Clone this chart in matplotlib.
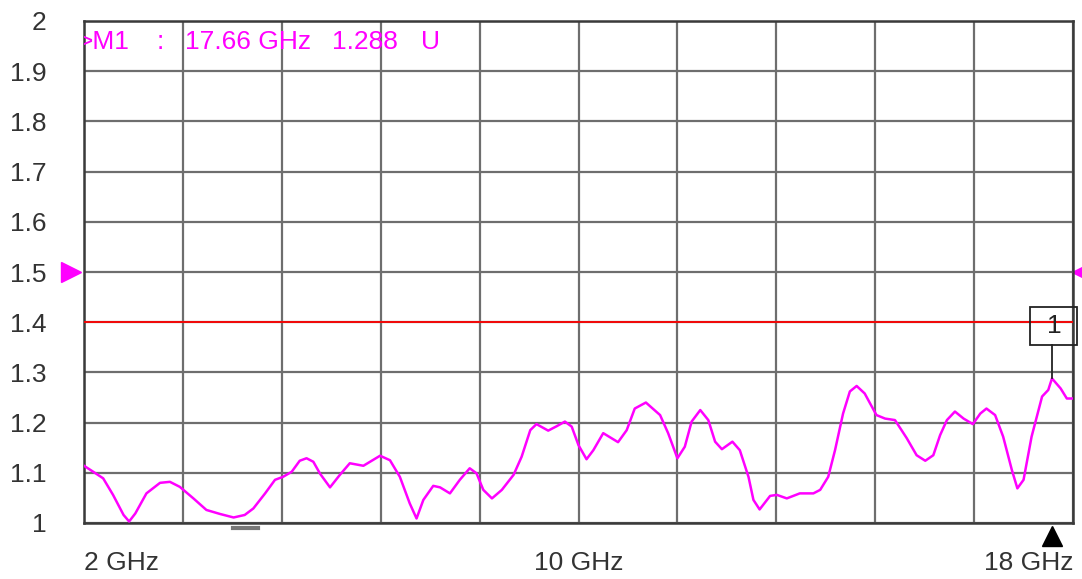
#!/usr/bin/env python3
"""VSWR trace, 2-18 GHz, with M1 marker and 1.4 limit line."""
import matplotlib
matplotlib.use("Agg")
import matplotlib.pyplot as plt
from matplotlib.patches import Rectangle
from matplotlib.transforms import blended_transform_factory

plt.rcParams["font.family"] = ["Liberation Sans", "DejaVu Sans"]

# trace
freq_ghz = [2.00, 2.15, 2.31, 2.47, 2.64, 2.73, 2.83, 3.01, 3.23, 3.39, 3.55, 3.77,
            3.98, 4.20, 4.42, 4.60, 4.74, 4.93, 5.09, 5.22, 5.36, 5.49, 5.60, 5.71,
            5.82, 5.98, 6.14, 6.30, 6.52, 6.79, 6.95, 7.11, 7.27, 7.38, 7.49, 7.65,
            7.76, 7.92, 8.08, 8.24, 8.35, 8.46, 8.60, 8.76, 8.95, 9.08, 9.22, 9.32,
            9.51, 9.65, 9.78, 9.89, 10.00, 10.13, 10.24, 10.40, 10.64, 10.78, 10.91,
            11.09, 11.32, 11.45, 11.60, 11.72, 11.83, 11.97, 12.10, 12.21, 12.32, 12.49,
            12.61, 12.75, 12.83, 12.93, 13.10, 13.21, 13.37, 13.58, 13.80, 13.91, 14.04,
            14.15, 14.28, 14.39, 14.50, 14.63, 14.82, 14.96, 15.12, 15.31, 15.47, 15.61,
            15.74, 15.85, 15.96, 16.09, 16.23, 16.38, 16.50, 16.60, 16.74, 16.87, 17.01,
            17.10, 17.20, 17.33, 17.50, 17.60, 17.66, 17.80, 17.90, 18.00]
vswr = [1.114, 1.102, 1.089, 1.056, 1.016, 1.003, 1.019, 1.059, 1.080, 1.082, 1.072, 1.049,
        1.026, 1.018, 1.011, 1.016, 1.029, 1.059, 1.086, 1.092, 1.102, 1.124, 1.129, 1.122,
        1.098, 1.071, 1.096, 1.119, 1.114, 1.134, 1.125, 1.092, 1.039, 1.009, 1.046, 1.074,
        1.071, 1.059, 1.086, 1.109, 1.099, 1.066, 1.049, 1.066, 1.096, 1.132, 1.185, 1.197,
        1.184, 1.193, 1.202, 1.192, 1.155, 1.127, 1.145, 1.179, 1.161, 1.185, 1.228,
        1.240, 1.215, 1.179, 1.129, 1.152, 1.202, 1.225, 1.205, 1.162, 1.147, 1.162,
        1.145, 1.092, 1.046, 1.027, 1.054, 1.056, 1.049, 1.059, 1.059, 1.066, 1.092,
        1.145, 1.218, 1.262, 1.273, 1.258, 1.215, 1.208, 1.205, 1.169, 1.135, 1.124,
        1.135, 1.175, 1.205, 1.222, 1.208, 1.197, 1.218, 1.228, 1.215, 1.172, 1.106,
        1.069, 1.086, 1.172, 1.252, 1.265, 1.288, 1.268, 1.248, 1.248]

x_ticks = [2 + 1.6 * i for i in range(11)]
x_labels = ["2 GHz"] + [""] * 4 + ["10 GHz"] + [""] * 4 + ["18 GHz"]
y_ticks = [1.0 + 0.1 * i for i in range(11)]
y_labels = ["1", "1.1", "1.2", "1.3", "1.4", "1.5", "1.6", "1.7", "1.8", "1.9", "2"]

limit = 1.4
ref_level = 1.5
m1_freq, m1_val = 17.66, 1.288
m1_text = [">M1", ":", "17.66 GHz", "1.288", "U"]

MAG = "#ff00ff"
GRID = "#6e6e6e"
TXT = "#333333"

fig = plt.figure(figsize=(10.82, 5.79), dpi=100)
ax = fig.add_axes([84 / 1082, 56 / 579, 989 / 1082, 502 / 579])
ax.set_xlim(2, 18)
ax.set_ylim(1, 2)

ax.set_xticks(x_ticks)
ax.set_xticklabels(x_labels, fontsize=19, color=TXT)
ax.set_yticks(y_ticks)
ax.set_yticklabels(y_labels, fontsize=19, color=TXT)
ax.tick_params(axis="both", length=0)
ax.tick_params(axis="x", pad=20)
ax.tick_params(axis="y", pad=27)
xl = ax.get_xticklabels()
xl[0].set_ha("left")
xl[-1].set_ha("right")
ax.grid(True, color=GRID, lw=1.6)
for s in ax.spines.values():
    s.set_color("#3a3a3a")
    s.set_linewidth(1.8)

ax.axhline(limit, color="red", lw=1.3, zorder=3)
ax.plot(freq_ghz, vswr, color=MAG, lw=1.8, zorder=4)

# marker M1: leader line + boxed label
ax.plot([m1_freq, m1_freq], [m1_val, 1.354], color="#222222", lw=1.3, zorder=5)
ax.add_patch(Rectangle((17.30, 1.354), 0.76, 0.076, facecolor="none",
                       edgecolor="#222222", lw=1.3, clip_on=False, zorder=6))
ax.text(17.69, 1.393, "1", fontsize=19, color="#222222", ha="center", va="center", zorder=7)

# marker readout, placed piece by piece like the analyser does (">" is cut by the frame)
for xpos, s in zip([-0.006, 0.073, 0.102, 0.251, 0.341], m1_text):
    ax.text(xpos, 0.958, s, transform=ax.transAxes, fontsize=19, color=MAG,
            ha="left", va="center", clip_on=True)

# reference level arrows and stimulus markers outside the grid
ty = blended_transform_factory(ax.transAxes, ax.transData)
ax.plot([-0.013], [ref_level], marker=">", ms=15, color=MAG, transform=ty, clip_on=False)
ax.plot([1.009], [ref_level], marker="<", ms=15, color=MAG, transform=ty, clip_on=False)
tx = blended_transform_factory(ax.transData, ax.transAxes)
ax.plot([m1_freq], [-0.025], marker="^", ms=15, color="black", transform=tx, clip_on=False)
ax.plot([4.41, 4.82], [-0.01, -0.01], color="#777777", lw=3, transform=tx, clip_on=False)

fig.savefig("out.png", dpi=100)
